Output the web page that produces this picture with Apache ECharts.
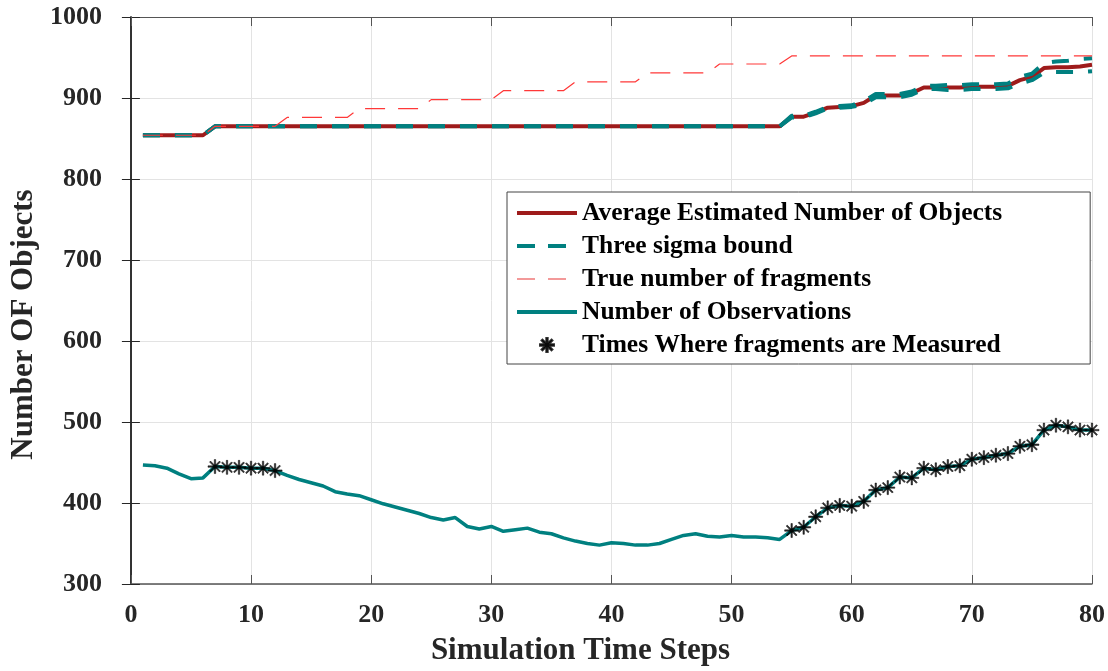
<!DOCTYPE html>
<html>
<head>
<meta charset="utf-8">
<script src="https://cdn.jsdelivr.net/npm/echarts@6/dist/echarts.min.js"></script>
<style>
  html, body { margin: 0; padding: 0; background: #fff; }
  #chart { width: 1108px; height: 671px; }
</style>
</head>
<body>
<div id="chart"></div>
<script>
// Simulation time steps
const steps = [
  1, 2, 3, 4, 5, 6, 7, 8, 9, 10, 11, 12, 13, 14, 15, 16, 17, 18, 19, 20,
  21, 22, 23, 24, 25, 26, 27, 28, 29, 30, 31, 32, 33, 34, 35, 36, 37, 38, 39, 40,
  41, 42, 43, 44, 45, 46, 47, 48, 49, 50, 51, 52, 53, 54, 55, 56, 57, 58, 59, 60,
  61, 62, 63, 64, 65, 66, 67, 68, 69, 70, 71, 72, 73, 74, 75, 76, 77, 78, 79, 80
];

// Average estimated number of objects
const avgEstimate = [
  854, 854, 854, 854, 854, 854, 865, 865, 865, 865, 865, 865, 865, 865, 865, 865, 865, 865, 865, 865,
  865, 865, 865, 865, 865, 865, 865, 865, 865, 865, 865, 865, 865, 865, 865, 865, 865, 865, 865, 865,
  865, 865, 865, 865, 865, 865, 865, 865, 865, 865, 865, 865, 865, 865, 877, 877, 882, 888, 889, 890,
  894, 903, 903, 903, 906, 913, 913, 913, 913, 914, 914, 914, 915, 922, 926, 937, 938, 938, 939, 941
];

// Three sigma bound (upper and lower)
const sigmaUpper = [
  854, 854, 854, 854, 854, 854, 865, 865, 865, 865, 865, 865, 865, 865, 865, 865, 865, 865, 865, 865,
  865, 865, 865, 865, 865, 865, 865, 865, 865, 865, 865, 865, 865, 865, 865, 865, 865, 865, 865, 865,
  865, 865, 865, 865, 865, 865, 865, 865, 865, 865, 865, 865, 865, 865, 878, 878, 883, 889, 890, 891,
  896, 905, 905, 905, 908, 915, 915, 916, 916, 917, 917, 917, 918, 926, 930, 943, 945, 946, 948, 949
];
const sigmaLower = [
  854, 854, 854, 854, 854, 854, 865, 865, 865, 865, 865, 865, 865, 865, 865, 865, 865, 865, 865, 865,
  865, 865, 865, 865, 865, 865, 865, 865, 865, 865, 865, 865, 865, 865, 865, 865, 865, 865, 865, 865,
  865, 865, 865, 865, 865, 865, 865, 865, 865, 865, 865, 865, 865, 865, 876, 876, 881, 887, 888, 889,
  892, 901, 901, 901, 904, 911, 911, 910, 910, 911, 911, 911, 912, 918, 922, 931, 932, 932, 932, 933
];

// True number of fragments
const trueFragments = [
  854, 854, 854, 854, 854, 854, 865, 865, 865, 865, 865, 865, 876, 876, 876, 876, 876, 876, 887, 887,
  887, 887, 887, 887, 898, 898, 898, 898, 898, 898, 909, 909, 909, 909, 909, 909, 920, 920, 920, 920,
  920, 920, 931, 931, 931, 931, 931, 931, 942, 942, 942, 942, 942, 942, 952, 952, 952, 952, 952, 952,
  952, 952, 952, 952, 952, 952, 952, 952, 952, 952, 952, 952, 952, 952, 952, 952, 952, 952, 952, 952
];

// Number of observations
const observations = [
  447, 446, 443, 436, 430, 431, 445, 444, 444, 443, 443, 440, 434, 429, 425, 421, 414, 411, 409, 404,
  399, 395, 391, 387, 382, 379, 382, 371, 368, 371, 365, 367, 369, 364, 362, 357, 353, 350, 348, 351,
  350, 348, 348, 350, 355, 360, 362, 359, 358, 360, 358, 358, 357, 355, 366, 370, 383, 394, 397, 396,
  402, 416, 419, 432, 431, 443, 441, 445, 446, 454, 456, 459, 461, 470, 472, 490, 496, 494, 490, 490
];

// Steps at which fragments are measured
const measuredSteps = [
  7, 8, 9, 10, 11, 12,
  55, 56, 57, 58, 59, 60, 61, 62, 63, 64, 65, 66, 67, 68, 69, 70, 71, 72, 73, 74, 75, 76, 77, 78, 79, 80
];

const xTicks = [0, 10, 20, 30, 40, 50, 60, 70, 80];
const yTicks = [300, 400, 500, 600, 700, 800, 900, 1000];

const pairs = (ys) => steps.map((s, i) => [s, ys[i]]);
const measuredPoints = measuredSteps.map(s => [s, observations[steps.indexOf(s)]]);

// eight-armed asterisk marker
const asterisk = 'path://M-1,-10L1,-10L1,10L-1,10Z' +
  'M-10,-1L10,-1L10,1L-10,1Z' +
  'M-7.8,-6.4L-6.4,-7.8L7.8,6.4L6.4,7.8Z' +
  'M6.4,-7.8L7.8,-6.4L-6.4,7.8L-7.8,6.4Z';

const FONT = '"Liberation Serif", "Times New Roman", serif';
const INK = '#262626';
const RED = '#9E1B1B';
const TEAL = '#008080';
const PINK = '#ff3838';

const chart = echarts.init(document.getElementById('chart'), null, { renderer: 'canvas' });

const gridLine = { show: true, lineStyle: { color: '#e3e3e3', width: 1 } };
const plain = (v) => String(v);
const noMark = { opacity: 0 };

chart.setOption({
  backgroundColor: '#fff',
  animation: false,
  grid: { left: 129, right: 12, top: 17, bottom: 84, containLabel: false },
  xAxis: [{
    type: 'value', min: xTicks[0], max: xTicks[xTicks.length - 1], interval: 10,
    position: 'bottom',
    name: 'Simulation Time Steps', nameLocation: 'middle', nameGap: 51,
    nameTextStyle: { fontFamily: FONT, fontWeight: 'bold', fontSize: 31, color: INK, padding: [0, 62, 0, 0] },
    axisLine: { show: true, lineStyle: { color: '#555', width: 1.5 } },
    axisTick: { show: true, inside: true, length: 9, lineStyle: { color: '#555' } },
    axisLabel: { fontFamily: FONT, fontWeight: 'bold', fontSize: 26, color: INK, margin: 18, formatter: plain },
    splitLine: gridLine
  }, {
    type: 'value', min: xTicks[0], max: xTicks[xTicks.length - 1], interval: 10,
    position: 'top',
    axisLine: { show: true, lineStyle: { color: '#555', width: 1 } },
    axisTick: { show: true, inside: true, length: 9, lineStyle: { color: '#555' } },
    axisLabel: { show: false },
    splitLine: { show: false }
  }],
  yAxis: [{
    type: 'value', min: yTicks[0], max: yTicks[yTicks.length - 1], interval: 100,
    position: 'left',
    name: 'Number OF Objects', nameLocation: 'middle', nameGap: 84,
    nameTextStyle: { fontFamily: FONT, fontWeight: 'bold', fontSize: 31, color: INK, padding: [0, 48, 0, 0] },
    axisLine: { show: true, lineStyle: { color: INK, width: 1.5 } },
    axisTick: { show: true, inside: true, length: 9, lineStyle: { color: INK } },
    axisLabel: { fontFamily: FONT, fontWeight: 'bold', fontSize: 26, color: INK, margin: 29, formatter: plain },
    splitLine: gridLine
  }, {
    type: 'value', min: yTicks[0], max: yTicks[yTicks.length - 1], interval: 100,
    position: 'right',
    axisLine: { show: true, lineStyle: { color: INK, width: 1.5 } },
    axisTick: { show: true, inside: true, length: 9, lineStyle: { color: INK } },
    axisLabel: { show: false },
    splitLine: { show: false }
  }],
  legend: {
    orient: 'vertical',
    left: 507, top: 192,
    padding: [8, 88, 6, 8],
    itemWidth: 60, itemHeight: 14, itemGap: 7,
    backgroundColor: '#fff',
    borderColor: '#444', borderWidth: 1, borderRadius: 0,
    textStyle: { fontFamily: FONT, fontWeight: 'bold', fontSize: 25.5, color: '#000', lineHeight: 25 },
    data: [
      { name: 'Average Estimated Number of Objects', itemStyle: noMark,
        lineStyle: { color: RED, width: 4 } },
      { name: 'Three sigma bound', itemStyle: noMark,
        lineStyle: { color: TEAL, width: 4, type: [18, 13] } },
      { name: 'True number of fragments', itemStyle: noMark,
        lineStyle: { color: '#f07878', width: 1.6, type: [18, 13] } },
      { name: 'Number of Observations', itemStyle: noMark,
        lineStyle: { color: TEAL, width: 4 } },
      { name: 'Times Where fragments are Measured' }
    ]
  },
  series: [
    {
      name: 'Average Estimated Number of Objects', type: 'line', z: 2,
      data: pairs(avgEstimate), showSymbol: false, symbol: 'none',
      lineStyle: { color: RED, width: 4 }, itemStyle: { color: RED }
    },
    {
      name: 'Three sigma bound', type: 'line', z: 3,
      data: pairs(sigmaUpper), showSymbol: false, symbol: 'none',
      lineStyle: { color: TEAL, width: 4, type: [17, 15] }, itemStyle: { color: TEAL }
    },
    {
      name: 'Three sigma bound', type: 'line', z: 3,
      data: pairs(sigmaLower), showSymbol: false, symbol: 'none',
      lineStyle: { color: TEAL, width: 4, type: [17, 15] }, itemStyle: { color: TEAL }
    },
    {
      name: 'True number of fragments', type: 'line', z: 4,
      data: pairs(trueFragments), showSymbol: false, symbol: 'none',
      lineStyle: { color: PINK, width: 1.2, type: [20, 13] }, itemStyle: { color: '#ff6b6b' }
    },
    {
      name: 'Number of Observations', type: 'line', z: 5,
      data: pairs(observations), showSymbol: false, symbol: 'none',
      lineStyle: { color: TEAL, width: 3.5 }, itemStyle: { color: TEAL }
    },
    {
      name: 'Times Where fragments are Measured', type: 'scatter', z: 6,
      data: measuredPoints, symbol: asterisk, symbolSize: 14,
      itemStyle: { color: '#000', borderColor: '#000', borderWidth: 0.6 }
    }
  ]
});
</script>
</body>
</html>
